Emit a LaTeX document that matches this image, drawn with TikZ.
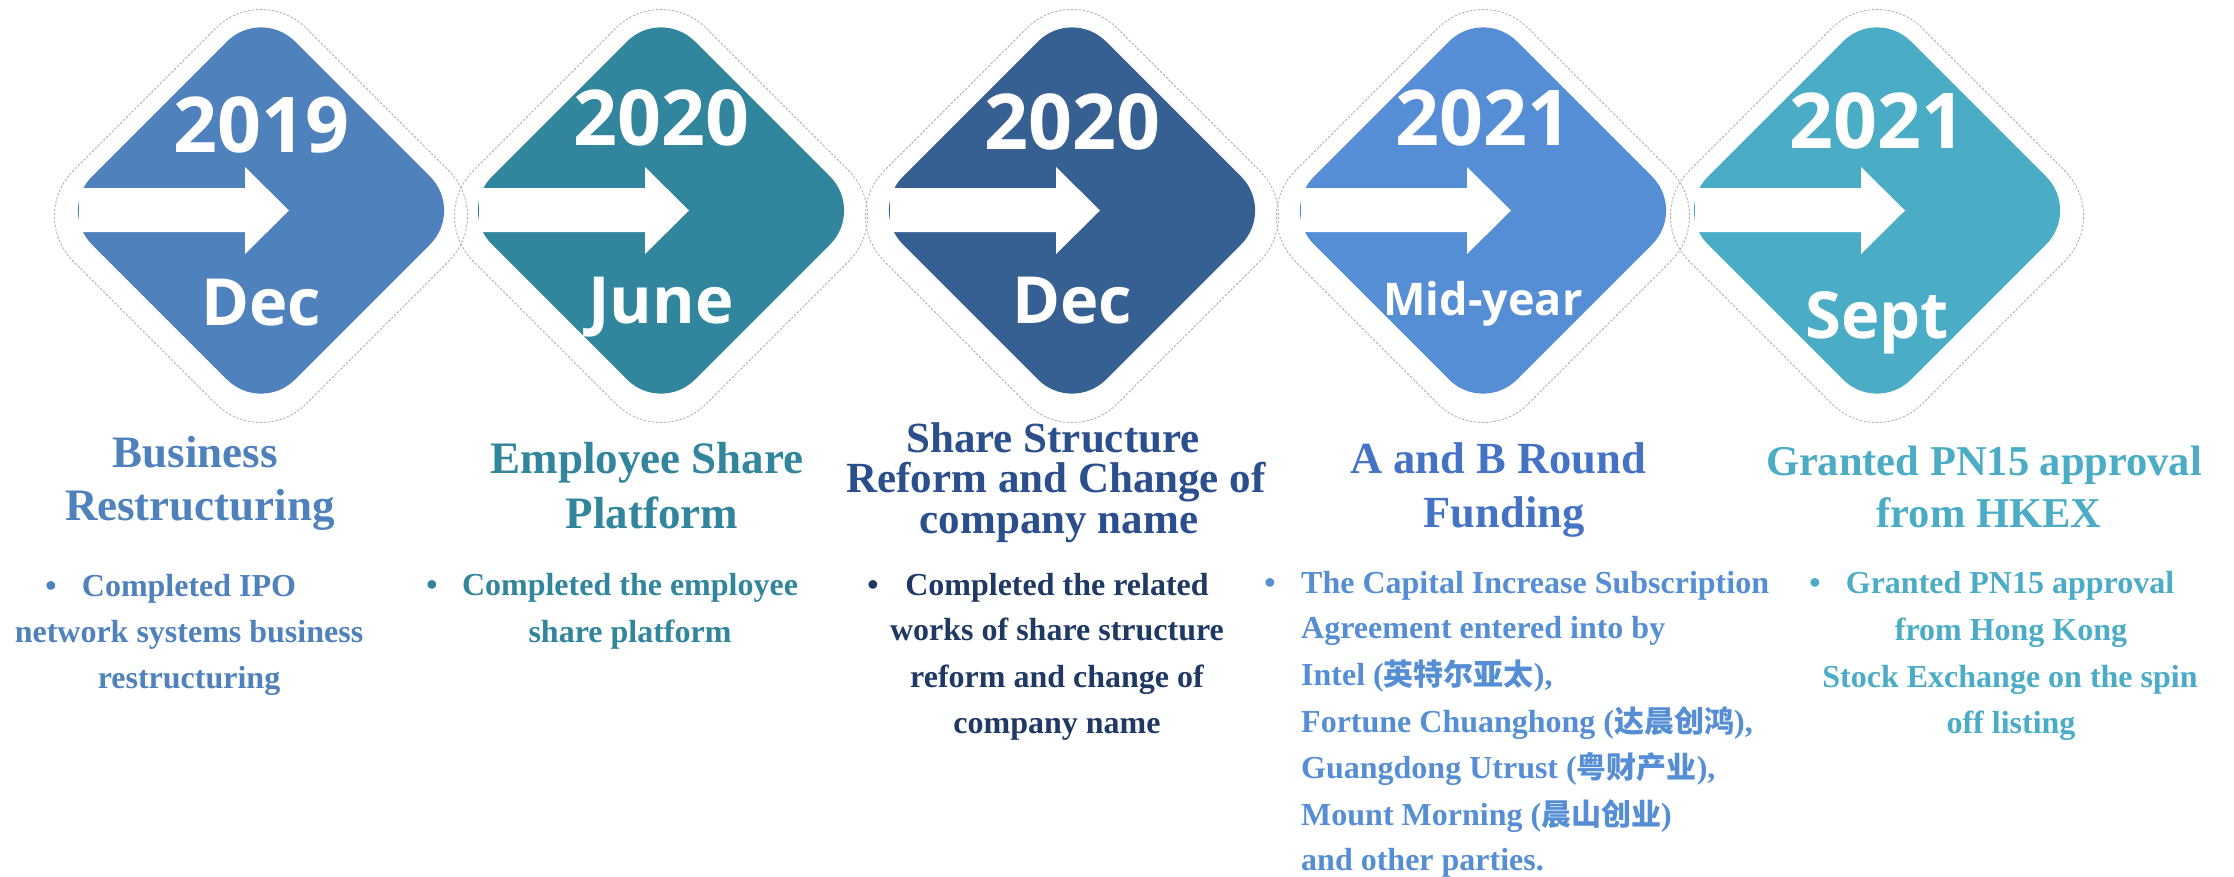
\documentclass[tikz,border=0pt]{standalone}
\usepackage{fontspec}
\setmainfont{Liberation Serif}
\newfontfamily\osans{Open Sans}
\newfontfamily\cjk{Noto Sans CJK SC}
\definecolor{cA}{HTML}{4F81BD}
\definecolor{cB}{HTML}{31859C}
\definecolor{cC}{HTML}{366092}
\definecolor{cD}{HTML}{558ED5}
\definecolor{cE}{HTML}{4BACC6}
\definecolor{tC}{HTML}{2B4F8C}
\definecolor{bC}{HTML}{1F3864}
\definecolor{tD}{HTML}{4472C4}
\tikzset{
  outl/.style={draw=black!32, line width=0.8pt, dash pattern=on 2.5pt off 1.5pt, rounded corners=64pt},
  yr/.style={font=\osans\bfseries\fontsize{77}{80}\selectfont, text=white, anchor=base, inner sep=0pt},
  ttl/.style={font=\bfseries\fontsize{45}{50}\selectfont, anchor=base, inner sep=0pt},
  ttlc/.style={font=\bfseries\fontsize{43}{50}\selectfont, anchor=base, inner sep=0pt},
  ttld/.style={font=\bfseries\fontsize{44.5}{50}\selectfont, anchor=base, inner sep=0pt},
  ttle/.style={font=\bfseries\fontsize{42.5}{50}\selectfont, anchor=base, inner sep=0pt},
  bl/.style={font=\bfseries\fontsize{32}{36}\selectfont, anchor=base, inner sep=0pt},
  bll/.style={font=\bfseries\fontsize{32}{36}\selectfont, anchor=base west, inner sep=0pt},
}
\newcommand{\zh}[1]{{\cjk\bfseries\fontsize{30}{36}\selectfont #1}}
\begin{document}
\begin{tikzpicture}[x=1pt,y=-1pt]
\useasboundingbox (0,0) rectangle (2234,876);
\foreach \cx/\col/\yr/\yb/\mo/\mb/\ms [count=\i] in {261/cA/2019/152/Dec/325/65, 661/cB/2020/145/June/323/65, 1072/cC/2020/149/Dec/323/65, 1483/cD/2021/145/Mid-year/315/45, 1877/cE/2021/148/Sept/338/65} {
  \draw[outl] ({\cx+116.5},{216-116.5}) -- ({\cx+233},216) -- (\cx,{216+233}) -- ({\cx-233},216) -- (\cx,{216-233}) -- cycle;
  \fill[\col, rounded corners=48pt] ({\cx+101.5},{210.5-101.5}) -- ({\cx+203},210.5) -- (\cx,{210.5+203}) -- ({\cx-203},210.5) -- (\cx,{210.5-203}) -- cycle;
  \fill[white] ({\cx-182},188) -- ({\cx-16},188) -- ({\cx-16},167) -- ({\cx+28},210.5) -- ({\cx-16},254) -- ({\cx-16},232) -- ({\cx-182},232) -- cycle;
  \node[yr] (yr\i) at (\cx,\yb) {\yr};
  \node[anchor=base, inner sep=0pt, text=white, font=\osans\bfseries\fontsize{\ms}{\ms}\selectfont] (mo\i) at (\cx,\mb) {\mo};
}
% block 1
\begin{scope}[text=cA]
\node[ttl] (t1a) at (195,467) {Business};
\node[ttl] (t1b) at (200,520) {Restructuring};
\node[bl] (b1) at (51,596) {•};
\node[bl] (l1a) at (189,596) {Completed IPO};
\node[bl] (l1b) at (189,642) {network systems business};
\node[bl] (l1c) at (189,688) {restructuring};
\end{scope}
% block 2
\begin{scope}[text=cB]
\node[ttl] (t2a) at (647,473) {Employee Share};
\node[ttl] (t2b) at (652,528) {Platform};
\node[bl] (b2) at (432,595) {•};
\node[bl] (l2a) at (630,595) {Completed the employee};
\node[bl] (l2b) at (630,642) {share platform};
\end{scope}
% block 3
\node[ttlc, text=tC] (t3a) at (1053,452) {Share Structure};
\node[ttlc, text=tC] (t3b) at (1056,492) {Reform and Change of};
\node[ttlc, text=tC] (t3c) at (1059,533) {company name};
\begin{scope}[text=bC]
\node[bl] (b3) at (873,595) {•};
\node[bl] (l3a) at (1057,595) {Completed the related};
\node[bl] (l3b) at (1057,640) {works of share structure};
\node[bl] (l3c) at (1057,687) {reform and change of};
\node[bl] (l3d) at (1057,733) {company name};
\end{scope}
% block 4
\node[ttld, text=tD] (t4a) at (1498,473) {A and B Round};
\node[ttld, text=tD] (t4b) at (1504,527) {Funding};
\begin{scope}[text=cD]
\node[bl] (b4) at (1270,593) {•};
\node[bll] (l4a) at (1301,593) {The Capital Increase Subscription};
\node[bll] (l4b) at (1301,638) {Agreement entered into by};
\node[bll] (l4c) at (1301,685) {Intel (\zh{英特尔亚太}),};
\node[bll] (l4d) at (1301,732) {Fortune Chuanghong (\zh{达晨创鸿}),};
\node[bll] (l4e) at (1301,778) {Guangdong Utrust (\zh{粤财产业}),};
\node[bll] (l4f) at (1301,825) {Mount Morning (\zh{晨山创业})};
\node[bll] (l4g) at (1301,870) {and other parties.};
\end{scope}
% block 5
\begin{scope}[text=cE]
\node[ttle] (t5a) at (1984,475) {Granted PN15 approval};
\node[ttle] (t5b) at (1989,527) {from HKEX};
\node[bl] (b5) at (1815,593) {•};
\node[bl] (l5a) at (2010,593) {Granted PN15 approval};
\node[bl] (l5b) at (2011,640) {from Hong Kong};
\node[bl] (l5c) at (2010,687) {Stock Exchange on the spin};
\node[bl] (l5d) at (2011,733) {off listing};
\end{scope}
\end{tikzpicture}
\end{document}
